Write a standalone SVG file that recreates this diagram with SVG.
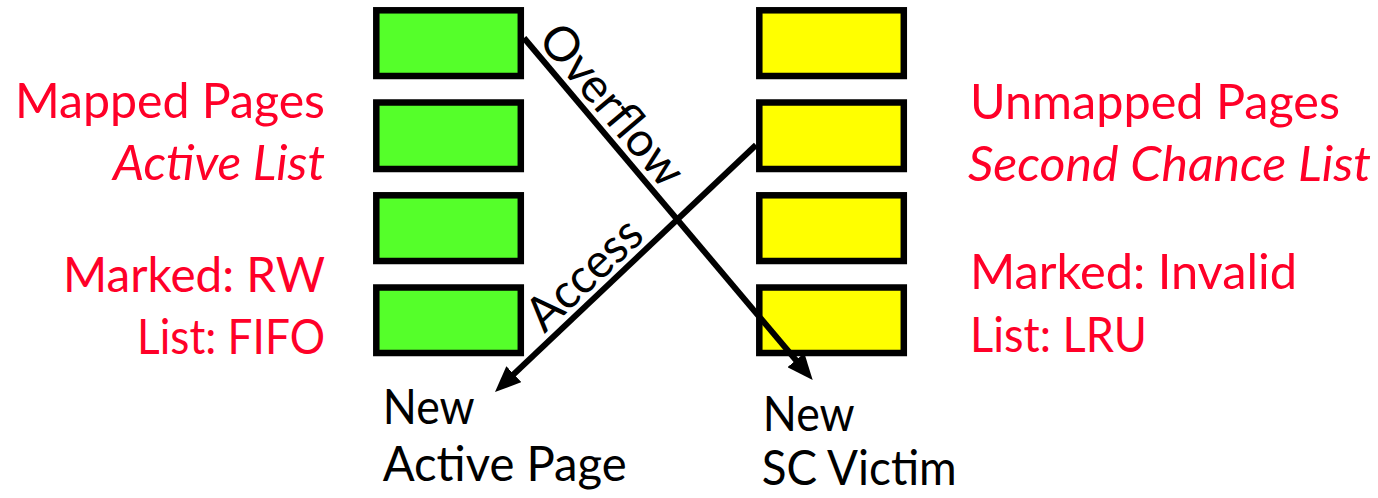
<svg xmlns="http://www.w3.org/2000/svg" width="1378" height="498" viewBox="0 0 1378 498">
  <style>
    .g { fill: #55FF2A; stroke: #000; stroke-width: 6.5; }
    .y { fill: #FFFF00; stroke: #000; stroke-width: 6.5; }
    .red { fill: #FF0028; font-family: Lato, "Open Sans", "Liberation Sans", sans-serif; font-size: 48px; }
    .it { font-style: italic; }
    .blk { fill: #000; font-family: Lato, "Open Sans", "Liberation Sans", sans-serif; font-size: 48px; }
    .conn { stroke: #000; stroke-width: 6; fill: none; marker-end: url(#arrow); }
  </style>
  <defs>
    <marker id="arrow" markerUnits="userSpaceOnUse" markerWidth="26" markerHeight="22" viewBox="0 0 26 22" refX="11" refY="11" orient="auto">
      <path d="M0,0 L26,11 L0,22 z" fill="#000"/>
    </marker>
  </defs>
  <rect width="1378" height="498" fill="#fff"/>

  <g id="active-list">
    <rect id="a1" class="g" x="376.3" y="10.3" width="144.5" height="65.7"/>
    <rect id="a2" class="g" x="376.3" y="102.5" width="144.5" height="66.5"/>
    <rect id="a3" class="g" x="376.3" y="195.3" width="144.5" height="65.7"/>
    <rect id="a4" class="g" x="376.3" y="287.5" width="144.5" height="65.5"/>
  </g>
  <g id="sc-list">
    <rect id="s1" class="y" x="759.3" y="10.3" width="144.5" height="65.7"/>
    <rect id="s2" class="y" x="759.3" y="102.5" width="144.5" height="66.5"/>
    <rect id="s3" class="y" x="759.3" y="195.3" width="144.5" height="65.7"/>
    <rect id="s4" class="y" x="759.3" y="287.5" width="144.5" height="65.5"/>
  </g>

  <g id="connectors">
    <path id="overflow" class="conn" d="M524,38 L803,368.5"/>
    <path id="access" class="conn" d="M756,145 L505.9,381.7"/>
    <text class="blk" text-anchor="middle" textLength="196" lengthAdjust="spacingAndGlyphs" transform="translate(599.8,115.3) rotate(49.8)">Overflow</text>
    <text class="blk" text-anchor="middle" textLength="140" lengthAdjust="spacingAndGlyphs" transform="translate(595.4,286) rotate(-43.4)">Access</text>
  </g>

  <g id="left-labels">
    <text class="red" x="325" y="118" text-anchor="end" textLength="310" lengthAdjust="spacingAndGlyphs">Mapped Pages</text>
    <text class="red it" x="325" y="180" text-anchor="end" textLength="212" lengthAdjust="spacingAndGlyphs">Active List</text>
    <text class="red" x="325" y="292" text-anchor="end" textLength="262" lengthAdjust="spacingAndGlyphs">Marked: RW</text>
    <text class="red" x="325" y="354" text-anchor="end" textLength="188" lengthAdjust="spacingAndGlyphs">List: FIFO</text>
  </g>
  <g id="right-labels">
    <text class="red" x="970" y="119" textLength="370" lengthAdjust="spacingAndGlyphs">Unmapped Pages</text>
    <text class="red it" x="968" y="181" textLength="403" lengthAdjust="spacingAndGlyphs">Second Chance List</text>
    <text class="red" x="970" y="289" textLength="327" lengthAdjust="spacingAndGlyphs">Marked: Invalid</text>
    <text class="red" x="970" y="352" textLength="177" lengthAdjust="spacingAndGlyphs">List: LRU</text>
  </g>

  <g id="new-active-page">
    <text class="blk" x="382.7" y="424" textLength="92" lengthAdjust="spacingAndGlyphs">New</text>
    <text class="blk" x="382.7" y="481" textLength="244" lengthAdjust="spacingAndGlyphs">Active Page</text>
  </g>
  <g id="new-sc-victim">
    <text class="blk" x="762.7" y="431" textLength="92" lengthAdjust="spacingAndGlyphs">New</text>
    <text class="blk" x="761.7" y="485" textLength="195" lengthAdjust="spacingAndGlyphs">SC Victim</text>
  </g>
</svg>
